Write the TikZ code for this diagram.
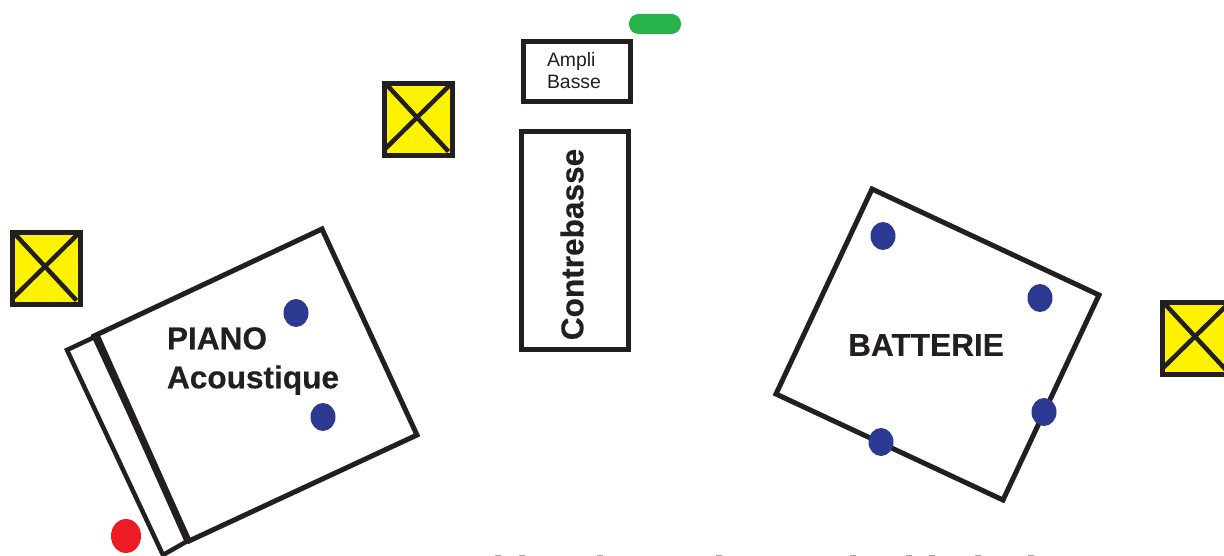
\documentclass[tikz,border=0pt]{standalone}
\usepackage{fontspec}
\setmainfont{Liberation Sans}
\newfontfamily\labfont[FakeBold=0.35]{Liberation Sans Bold}
\usepackage{xcolor}
\usetikzlibrary{calc,shapes.geometric}
\definecolor{ink}{HTML}{231F20}
\definecolor{spk}{HTML}{FFF200}
\definecolor{mic}{HTML}{2B3990}
\definecolor{redmic}{HTML}{ED1C24}
\definecolor{greenbar}{HTML}{27B24C}
\tikzset{
  outline/.style={draw=ink, line width=5pt, fill=white, miter limit=10},
  crossline/.style={draw=ink, line width=4.5pt},
  micdot/.style={ellipse, fill=mic, minimum width=25pt, minimum height=28pt, inner sep=0pt},
  lab/.style={text=ink, font=\labfont\fontsize{31.6}{39}\selectfont, align=left}
}
% a yellow square with a cross: name, centre
\newcommand{\spkbox}[2]{
  \node[fill=spk, draw=ink, line width=5.3pt, minimum width=67.7pt, minimum height=71.7pt, inner sep=0pt] (#1) at (#2) {};
  \draw[crossline] ($(#1)+(-33,-36)$) -- ($(#1)+(30,32)$);
  \draw[crossline] ($(#1)+(33,-36)$) -- ($(#1)+(-34,30)$);
}
\begin{document}
\begin{tikzpicture}[x=1pt, y=-1pt]
  \useasboundingbox (0,0) rectangle (1224,556);
  \clip (0,0) rectangle (1224,556);

  % speakers
  \spkbox{spkA}{46.5,268.5}
  \spkbox{spkB}{418.5,119.5}
  \spkbox{spkC}{1196.5,338.5}

  % piano
  \draw[outline, line width=4.5pt] (67,350) -- (101,334) -- (191,539) -- (163,555) -- cycle;
  \draw[outline] (94,336) -- (322,229) -- (417,435) -- (189,541) -- cycle;
  \draw[draw=ink, line width=7pt] (96,335) -- (188,541);

  % bass and its amp
  \node[outline, minimum width=107pt, minimum height=218pt, inner sep=0pt] (bass) at (575,240.5) {};
  \node[lab, rotate=90] (bassname) at (572,244.5) {Contrebasse};
  \node[outline, minimum width=107pt, minimum height=60pt, inner sep=0pt] (amp) at (577,71.5) {};
  \node[text=ink, font=\fontsize{19.4}{22}\selectfont, align=left] (ampname) at (574,71) {Ampli\\Basse};
  \node[fill=greenbar, rounded corners=9.5pt, minimum width=52pt, minimum height=20pt, inner sep=0pt] (bar) at (655,24) {};

  % drums
  \draw[outline] (872,189) -- (1099,295) -- (1003,500) -- (776,394) -- cycle;
  \node[lab] (drumname) at (926,345) {BATTERIE};
  \node[lab] (pianoname) at (253,361) {PIANO\\Acoustique};

  % microphones
  \node[micdot] (m1) at (296,313) {};
  \node[micdot] (m2) at (323,417) {};
  \node[micdot] (m3) at (883,236) {};
  \node[micdot] (m4) at (1040,298) {};
  \node[micdot] (m5) at (1044,412) {};
  \node[micdot] (m6) at (881,442) {};
  \node[ellipse, fill=redmic, minimum width=30pt, minimum height=34pt, inner sep=0pt] (m7) at (126,536) {};

  % cut off marks along the bottom edge
  \foreach \x in {498,522,600,719,853,909,932,978,1031}
    \draw[draw=ink!40, line width=1pt] (\x-3,555.7) -- (\x+3,555.7);
\end{tikzpicture}
\end{document}
